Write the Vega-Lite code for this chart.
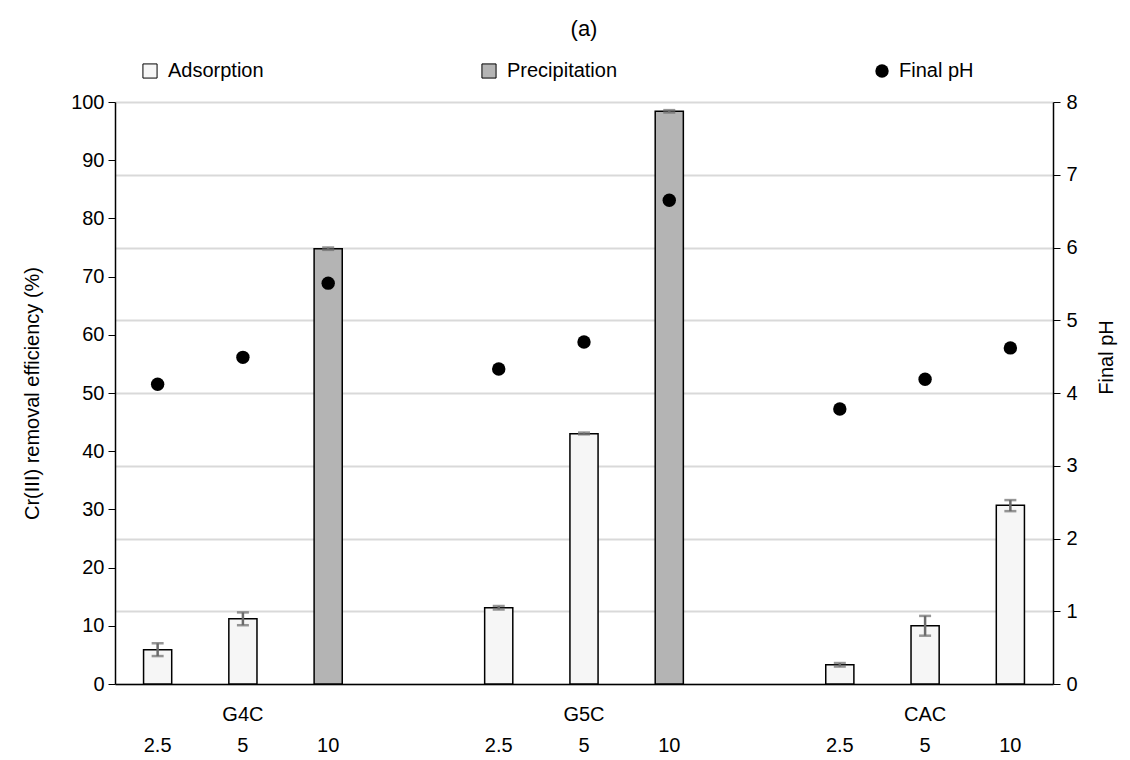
{
  "$schema": "https://vega.github.io/schema/vega-lite/v6.json",
  "width": 938,
  "height": 582,
  "autosize": {"type": "none"},
  "padding": {"left": 115, "top": 102, "right": 77, "bottom": 76},
  "background": "white",
  "title": {"text": "(a)", "fontSize": 22, "font": "Liberation Sans", "fontWeight": "normal", "color": "black", "offset": 20},
  "config": {"view": {"stroke": null}, "font": "Liberation Sans"},
  "data": {"values": [
    {"slot": "G4C 2.5", "type": "Adsorption", "value": 5.9, "lo": 4.8, "hi": 7.0, "pH": 4.12},
    {"slot": "G4C 5", "type": "Adsorption", "value": 11.2, "lo": 10.1, "hi": 12.3, "pH": 4.49},
    {"slot": "G4C 10", "type": "Precipitation", "value": 74.8, "lo": 74.6, "hi": 75.0, "pH": 5.51},
    {"slot": "G5C 2.5", "type": "Adsorption", "value": 13.1, "lo": 12.8, "hi": 13.4, "pH": 4.33},
    {"slot": "G5C 5", "type": "Adsorption", "value": 43.0, "lo": 42.9, "hi": 43.2, "pH": 4.70},
    {"slot": "G5C 10", "type": "Precipitation", "value": 98.4, "lo": 98.2, "hi": 98.6, "pH": 6.65},
    {"slot": "CAC 2.5", "type": "Adsorption", "value": 3.3, "lo": 3.0, "hi": 3.6, "pH": 3.78},
    {"slot": "CAC 5", "type": "Adsorption", "value": 10.0, "lo": 8.3, "hi": 11.7, "pH": 4.19},
    {"slot": "CAC 10", "type": "Adsorption", "value": 30.7, "lo": 29.7, "hi": 31.6, "pH": 4.62}
  ]},
  "layer": [
    {
      "layer": [
        {
          "mark": {"type": "bar", "stroke": "black", "strokeWidth": 1.5, "opacity": 1},
          "encoding": {
            "x": {
              "field": "slot", "type": "nominal", "sort": null,
              "scale": {"domain": ["G4C 2.5", "G4C 5", "G4C 10", "gap1", "G5C 2.5", "G5C 5", "G5C 10", "gap2", "CAC 2.5", "CAC 5", "CAC 10"], "paddingInner": 0.67, "paddingOuter": 0.335},
              "axis": {
                "title": null, "domainColor": "black", "domainWidth": 1.5, "ticks": false, "labelAngle": 0,
                "labelFontSize": 20, "labelColor": "black", "labelPadding": 20, "labelLineHeight": 31,
                "labelOverlap": false, "labelBaseline": "top", "grid": false,
                "labelExpr": "indexof(datum.value,'gap')==0 ? '' : (split(datum.value,' ')[1]=='5' ? [split(datum.value,' ')[0],'5'] : ['',split(datum.value,' ')[1]])"
              }
            },
            "y": {
              "field": "value", "type": "quantitative", "title": "Cr(III) removal efficiency (%)",
              "scale": {"domain": [0, 100], "nice": false},
              "axis": {
                "titleFontSize": 20, "titleFontWeight": "normal", "titleColor": "black",
                "values": [0, 10, 20, 30, 40, 50, 60, 70, 80, 90, 100], "grid": false, "tickSize": 7, "tickColor": "black",
                "domainColor": "black", "domainWidth": 1.5, "labelFontSize": 20, "labelColor": "black", "labelPadding": 4, "titlePadding": 28
              }
            },
            "fill": {
              "field": "type", "type": "nominal",
              "scale": {"domain": ["Adsorption", "Precipitation"], "range": ["#f6f6f6", "#b4b4b4"]},
              "legend": {
                "title": null, "orient": "none", "legendX": 25, "legendY": -41, "direction": "horizontal",
                "symbolType": "square", "symbolSize": 200, "symbolStrokeColor": "black", "symbolStrokeWidth": 1,
                "labelFontSize": 20, "labelColor": "black", "columnPadding": 215, "labelOffset": 8, "symbolOpacity": 1
              }
            }
          }
        },
        {
          "mark": {"type": "errorbar", "ticks": {"size": 12, "color": "#6b6b6b"}, "rule": {"color": "#6b6b6b"}, "thickness": 2.5},
          "encoding": {
            "x": {"field": "slot", "type": "nominal", "sort": null, "scale": {"domain": ["G4C 2.5", "G4C 5", "G4C 10", "gap1", "G5C 2.5", "G5C 5", "G5C 10", "gap2", "CAC 2.5", "CAC 5", "CAC 10"]}},
            "y": {"field": "lo", "type": "quantitative", "title": "Cr(III) removal efficiency (%)", "scale": {"domain": [0, 100], "nice": false}},
            "y2": {"field": "hi"}
          }
        }
      ]
    },
    {
      "mark": {"type": "point", "filled": true, "color": "black", "size": 180, "opacity": 1},
      "encoding": {
        "x": {"field": "slot", "type": "nominal", "sort": null, "scale": {"domain": ["G4C 2.5", "G4C 5", "G4C 10", "gap1", "G5C 2.5", "G5C 5", "G5C 10", "gap2", "CAC 2.5", "CAC 5", "CAC 10"]}},
        "y": {
          "field": "pH", "type": "quantitative",
          "scale": {"domain": [0, 8], "nice": false},
          "axis": {
            "orient": "right", "title": "Final pH", "titleFontSize": 20, "titleFontWeight": "normal", "titleColor": "black", "titleAngle": 270,
            "titleY": 255,
            "values": [0, 1, 2, 3, 4, 5, 6, 7, 8], "grid": true, "gridColor": "#d9d9d9", "gridWidth": 2,
            "tickSize": 7, "tickColor": "black", "domainColor": "black", "domainWidth": 1.5,
            "labelFontSize": 20, "labelColor": "black", "labelPadding": 6, "titlePadding": 39
          }
        },
        "shape": {
          "datum": "Final pH",
          "scale": {"range": ["circle"]},
          "legend": {
            "title": null, "orient": "none", "legendX": 757, "legendY": -41,
            "symbolSize": 180, "symbolFillColor": "black", "symbolStrokeColor": "black", "symbolOpacity": 1,
            "labelFontSize": 20, "labelColor": "black", "labelOffset": 7
          }
        }
      }
    }
  ],
  "resolve": {"scale": {"y": "independent"}}
}
